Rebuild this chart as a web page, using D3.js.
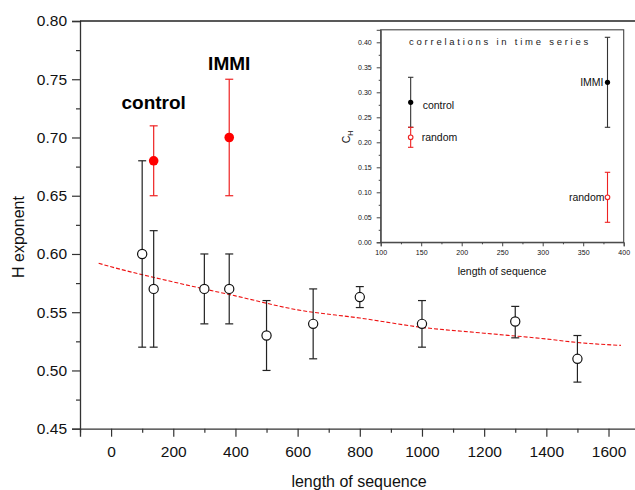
<!DOCTYPE html>
<html>
<head>
<meta charset="utf-8">
<script src="https://cdn.jsdelivr.net/npm/d3@7"></script>
<style>
  body { margin: 0; background: #fff; }
  svg { display: block; font-family: "Liberation Sans", Arial, sans-serif; }
</style>
</head>
<body>
<div class="chart"></div>
<script>
// main plot: H exponent vs length of sequence (open circles)
const lengths = [100, 137, 300, 380, 500, 650, 800, 1000, 1300, 1500];
const hValues = [0.60, 0.57, 0.57, 0.57, 0.53, 0.54, 0.563, 0.54, 0.542, 0.51];
const hLow = [0.52, 0.52, 0.54, 0.54, 0.50, 0.51, 0.554, 0.52, 0.528, 0.49];
const hHigh = [0.68, 0.62, 0.60, 0.60, 0.56, 0.57, 0.572, 0.56, 0.555, 0.53];

// red points (control, IMMI)
const redLabels = ["control", "IMMI"];
const redLengths = [137, 380];
const redValues = [0.68, 0.70];
const redLow = [0.65, 0.65];
const redHigh = [0.71, 0.75];

// dashed fit curve
const fitX = [-40, 0, 200, 400, 600, 800, 1000, 1200, 1400, 1500, 1640];
const fitY = [0.592, 0.589, 0.576, 0.564, 0.552, 0.545, 0.537, 0.532, 0.527, 0.524, 0.5215];

const xTicks = [0, 200, 400, 600, 800, 1000, 1200, 1400, 1600];
const xMinorTicks = [-100, 100, 300, 500, 700, 900, 1100, 1300, 1500, 1700];
const yTicks = [0.45, 0.50, 0.55, 0.60, 0.65, 0.70, 0.75, 0.80];
const yMinorTicks = [0.475, 0.525, 0.575, 0.625, 0.675, 0.725, 0.775];

// inset: C_H vs length of sequence
const insetLabels = ["control", "IMMI"];
const insetLengths = [137, 380];
const insetValues = [0.28, 0.32];
const insetLow = [0.23, 0.23];
const insetHigh = [0.33, 0.41];
const randomValues = [0.21, 0.09];
const randomLow = [0.19, 0.04];
const randomHigh = [0.23, 0.14];

const insetXTicks = [100, 150, 200, 250, 300, 350, 400];
const insetXMinor = [125, 175, 225, 275, 325, 375];
const insetYTicks = [0, 0.05, 0.10, 0.15, 0.20, 0.25, 0.30, 0.35, 0.40];
const insetYMinor = [0.025, 0.075, 0.125, 0.175, 0.225, 0.275, 0.325, 0.375];

const width = 635;
const height = 490;

const svg = d3
  .select(".chart")
  .append("svg")
  .attr("width", width)
  .attr("height", height);

const x = d3.scaleLinear().domain([-100, 1700]).range([80, 639.6]);
const y = d3.scaleLinear().domain([0.45, 0.8]).range([428.7, 21]);

// axes
const xAxis = svg
  .append("g")
  .attr("transform", `translate(0,${y(0.45)})`)
  .call(
    d3.axisBottom(x).tickValues(xTicks).tickSize(8).tickPadding(9)
      .tickFormat(d3.format("d"))
  );
xAxis.select(".domain").attr("stroke", "#333").attr("stroke-width", 1.3);
xAxis.selectAll(".tick line").attr("stroke", "#333").attr("stroke-width", 1.2);
xAxis.selectAll("text").attr("font-size", 15.5).attr("fill", "#111");

svg
  .append("g")
  .attr("transform", `translate(0,${y(0.45)})`)
  .call(d3.axisBottom(x).tickValues(xMinorTicks).tickSize(4).tickFormat(""))
  .call((g) => g.select(".domain").remove())
  .selectAll(".tick line")
  .attr("stroke", "#333")
  .attr("stroke-width", 1.2);

const yAxis = svg
  .append("g")
  .attr("transform", `translate(${x(-100)},0)`)
  .call(
    d3.axisLeft(y).tickValues(yTicks).tickSize(8).tickPadding(5)
      .tickFormat(d3.format(".2f"))
  );
yAxis.select(".domain").attr("stroke", "#333").attr("stroke-width", 1.3);
yAxis.selectAll(".tick line").attr("stroke", "#333").attr("stroke-width", 1.2);
yAxis.selectAll("text").attr("font-size", 15.5).attr("fill", "#111");

svg
  .append("g")
  .attr("transform", `translate(${x(-100)},0)`)
  .call(d3.axisLeft(y).tickValues(yMinorTicks).tickSize(4).tickFormat(""))
  .call((g) => g.select(".domain").remove())
  .selectAll(".tick line")
  .attr("stroke", "#333")
  .attr("stroke-width", 1.2);

// top frame
svg
  .append("line")
  .attr("x1", x(-100))
  .attr("x2", width)
  .attr("y1", y(0.8))
  .attr("y2", y(0.8))
  .attr("stroke", "#222")
  .attr("stroke-width", 1.3);

// axis titles
svg
  .append("text")
  .attr("x", 359)
  .attr("y", 487)
  .attr("text-anchor", "middle")
  .attr("font-size", 16)
  .attr("fill", "#111")
  .text("length of sequence");

svg
  .append("text")
  .attr("transform", "translate(24,237) rotate(-90)")
  .attr("text-anchor", "middle")
  .attr("font-size", 16)
  .attr("fill", "#111")
  .text("H exponent");

// dashed fit
const fitLine = d3
  .line()
  .x((d, i) => x(fitX[i]))
  .y((d) => y(d))
  .curve(d3.curveMonotoneX);

svg
  .append("path")
  .attr("d", fitLine(fitY))
  .attr("fill", "none")
  .attr("stroke", "#ee1111")
  .attr("stroke-width", 1.1)
  .attr("stroke-dasharray", "4,2");

// error bars helper
const errorBar = (g, cx, lo, hi, sx, sy, cap, color, sw) => {
  g.append("line")
    .attr("x1", sx(cx)).attr("x2", sx(cx))
    .attr("y1", sy(lo)).attr("y2", sy(hi))
    .attr("stroke", color).attr("stroke-width", sw);
  [lo, hi].forEach((v) => {
    g.append("line")
      .attr("x1", sx(cx) - cap).attr("x2", sx(cx) + cap)
      .attr("y1", sy(v)).attr("y2", sy(v))
      .attr("stroke", color).attr("stroke-width", sw);
  });
};

const mainBars = svg.append("g");
lengths.forEach((l, i) => {
  errorBar(mainBars, l, hLow[i], hHigh[i], x, y, 4, "#222", 1.2);
});
redLengths.forEach((l, i) => {
  errorBar(mainBars, l, redLow[i], redHigh[i], x, y, 4, "#ee2222", 1.2);
});

svg
  .append("g")
  .selectAll("circle")
  .data(hValues)
  .join("circle")
  .attr("cx", (d, i) => x(lengths[i]))
  .attr("cy", (d) => y(d))
  .attr("r", 4.6)
  .attr("fill", "#fff")
  .attr("stroke", "#111")
  .attr("stroke-width", 1.2);

svg
  .append("g")
  .selectAll("circle")
  .data(redValues)
  .join("circle")
  .attr("cx", (d, i) => x(redLengths[i]))
  .attr("cy", (d) => y(d))
  .attr("r", 4.8)
  .attr("fill", "#ff0000");

svg
  .append("g")
  .selectAll("text")
  .data(redLabels)
  .join("text")
  .attr("x", (d, i) => x(redLengths[i]))
  .attr("y", (d, i) => (i === 0 ? 109 : 70))
  .attr("text-anchor", "middle")
  .attr("font-size", 19)
  .attr("font-weight", "bold")
  .attr("fill", "#000")
  .text((d) => d);

// ---- inset ----
const ix = d3.scaleLinear().domain([100, 400]).range([380.7, 623.7]);
const iy = d3.scaleLinear().domain([0, 0.425]).range([242.3, 29.8]);

const inset = svg.append("g");

inset
  .append("rect")
  .attr("x", ix(100))
  .attr("y", iy(0.425))
  .attr("width", ix(400) - ix(100))
  .attr("height", iy(0) - iy(0.425))
  .attr("fill", "#fff")
  .attr("stroke", "#444")
  .attr("stroke-width", 1.1);

const ixAxis = inset
  .append("g")
  .attr("transform", `translate(0,${iy(0)})`)
  .call(d3.axisBottom(ix).tickValues(insetXTicks).tickSize(4).tickPadding(4)
    .tickFormat(d3.format("d")));
ixAxis.select(".domain").attr("stroke", "#444");
ixAxis.selectAll(".tick line").attr("stroke", "#444");
ixAxis.selectAll("text").attr("font-size", 7).attr("fill", "#111");

inset
  .append("g")
  .attr("transform", `translate(0,${iy(0)})`)
  .call(d3.axisBottom(ix).tickValues(insetXMinor).tickSize(2).tickFormat(""))
  .call((g) => g.select(".domain").remove())
  .selectAll(".tick line")
  .attr("stroke", "#444");

const iyAxis = inset
  .append("g")
  .attr("transform", `translate(${ix(100)},0)`)
  .call(d3.axisLeft(iy).tickValues(insetYTicks).tickSize(4).tickPadding(5)
    .tickFormat(d3.format(".2f")));
iyAxis.select(".domain").attr("stroke", "#444");
iyAxis.selectAll(".tick line").attr("stroke", "#444");
iyAxis.selectAll("text").attr("font-size", 7).attr("fill", "#111");

inset
  .append("g")
  .attr("transform", `translate(${ix(100)},0)`)
  .call(d3.axisLeft(iy).tickValues(insetYMinor).tickSize(2).tickFormat(""))
  .call((g) => g.select(".domain").remove())
  .selectAll(".tick line")
  .attr("stroke", "#444");

inset
  .append("text")
  .attr("x", 500)
  .attr("y", 44.5)
  .attr("text-anchor", "middle")
  .attr("font-size", 9.5)
  .attr("letter-spacing", 2.75)
  .attr("fill", "#222")
  .text("correlations in time series");

inset
  .append("text")
  .attr("x", 502)
  .attr("y", 275)
  .attr("text-anchor", "middle")
  .attr("font-size", 10.5)
  .attr("fill", "#111")
  .text("length of sequence");

const cLabel = inset
  .append("text")
  .attr("transform", "translate(350,137) rotate(-90)")
  .attr("text-anchor", "middle")
  .attr("font-size", 10.5)
  .attr("fill", "#111");
cLabel.append("tspan").text("C");
cLabel.append("tspan").attr("font-size", 7).attr("dy", 3).text("H");

insetLengths.forEach((l, i) => {
  errorBar(inset, l, insetLow[i], insetHigh[i], ix, iy, 2.7, "#333", 1.1);
  errorBar(inset, l, randomLow[i], randomHigh[i], ix, iy, 2.7, "#ee2222", 1.1);
});

inset
  .append("g")
  .selectAll("circle")
  .data(insetValues)
  .join("circle")
  .attr("cx", (d, i) => ix(insetLengths[i]))
  .attr("cy", (d) => iy(d))
  .attr("r", 2.6)
  .attr("fill", "#000");

inset
  .append("g")
  .selectAll("circle")
  .data(randomValues)
  .join("circle")
  .attr("cx", (d, i) => ix(insetLengths[i]))
  .attr("cy", (d) => iy(d))
  .attr("r", 2.3)
  .attr("fill", "#fff")
  .attr("stroke", "#ee2222")
  .attr("stroke-width", 1.1);

// point labels in inset: control / random on the right of 137, IMMI / random left of 380
inset
  .append("g")
  .selectAll("text")
  .data(insetLabels)
  .join("text")
  .attr("x", (d, i) => (i === 0 ? ix(insetLengths[i]) + 12 : ix(insetLengths[i]) - 4))
  .attr("y", (d, i) => iy(insetValues[i]) + (i === 0 ? 7 : 4))
  .attr("text-anchor", (d, i) => (i === 0 ? "start" : "end"))
  .attr("font-size", 10.5)
  .attr("fill", "#111")
  .text((d) => d);

inset
  .append("g")
  .selectAll("text")
  .data(randomValues)
  .join("text")
  .attr("x", (d, i) => (i === 0 ? ix(insetLengths[i]) + 11 : ix(insetLengths[i]) - 3))
  .attr("y", (d) => iy(d) + 4)
  .attr("text-anchor", (d, i) => (i === 0 ? "start" : "end"))
  .attr("font-size", 10.5)
  .attr("fill", "#111")
  .text("random");
</script>
</body>
</html>
